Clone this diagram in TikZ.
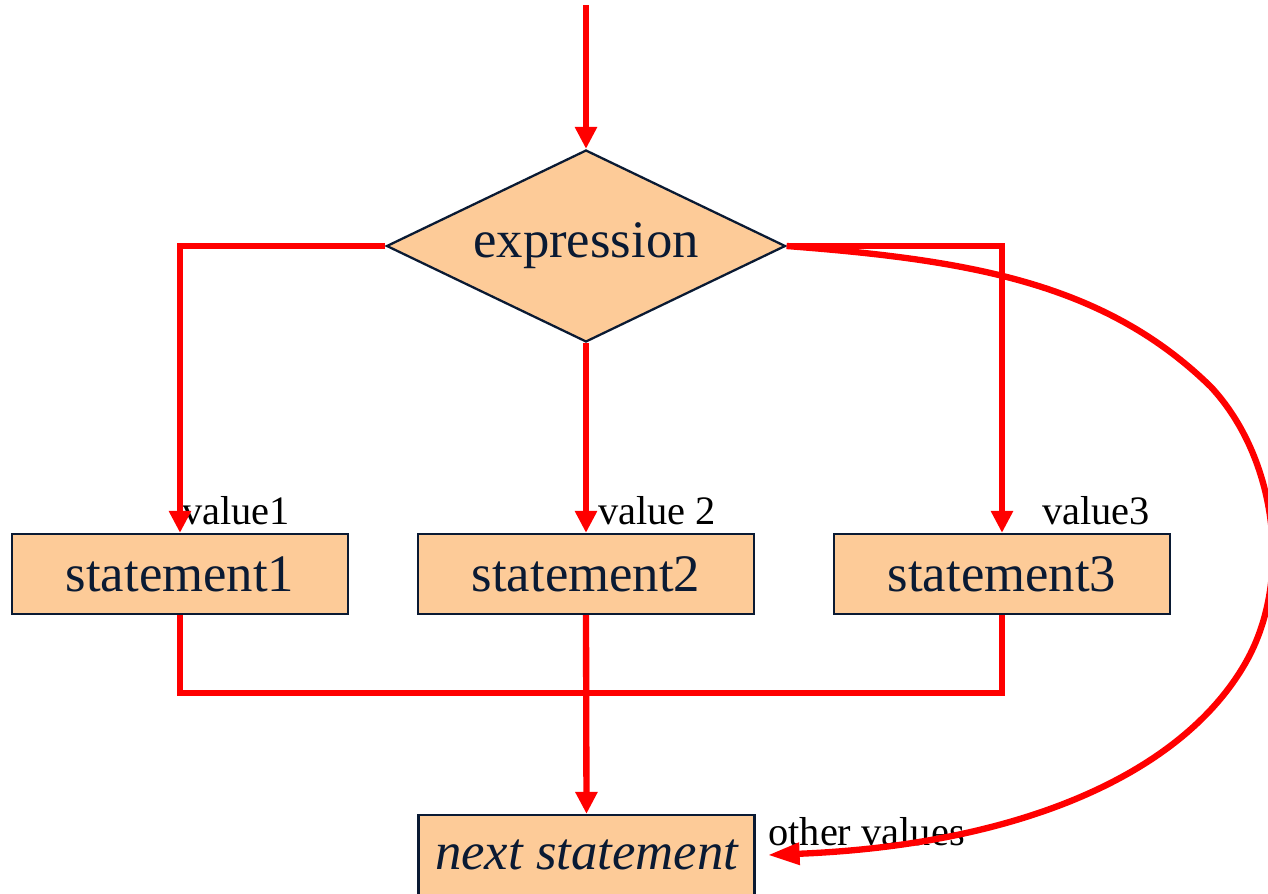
\documentclass[tikz,border=0pt]{standalone}
\usepackage{fontspec}
\setmainfont{Liberation Serif}
\usetikzlibrary{arrows.meta,shapes.geometric}
\definecolor{peach}{HTML}{FDCB98}
\definecolor{ink}{HTML}{0A1A33}
\definecolor{flowred}{HTML}{FF0000}
\begin{document}
\begin{tikzpicture}[x=0.02cm,y=-0.02cm,
  stmt/.style={draw=ink,line width=1.3pt,fill=peach,text=ink,inner sep=0pt,
    minimum width=6.72cm,minimum height=1.6cm,font=\fontsize{30}{35}\selectfont},
  decision/.style={diamond,aspect=2.08,draw=ink,line width=1.3pt,fill=peach,text=ink,inner sep=0pt,
    minimum width=7.98cm,minimum height=3.84cm,font=\fontsize{30}{36}\selectfont},
  tag/.style={anchor=west,inner sep=0pt,text=black,font=\fontsize{23}{27}\selectfont},
  wire/.style={draw=flowred,line width=3.6pt,line join=miter},
  flow/.style={wire,-{Triangle[length=12.5pt,width=12pt]}},
  bigflow/.style={wire,line join=round,-{Triangle[length=18pt,width=12pt]}}]

  \useasboundingbox (0,0) rectangle (1268,893);

  % nodes
  \coordinate (entry) at (586,5);
  \node[decision] (expr) at (586,246) {expression};
  \node[stmt] (s1) at (180,574) {statement1};
  \node[stmt] (s2) at (586,574) {statement2};
  \node[stmt] (s3) at (1002,574) {statement3};
  \node[stmt,font=\fontsize{30}{36}\selectfont\itshape] (next) at (586.5,855) {next statement};
  \coordinate (othertip) at (768,855);

  % case labels
  \node[tag] (v1) at (182,511) {value1};
  \node[tag] (v2) at (598,511) {value 2};
  \node[tag] (v3) at (1042,511) {value3};
  \node[tag] (ov) at (768,832) {other values};

  % flow lines
  \draw[flow] (entry) -- (expr.north);
  \draw[flow] (expr.west) -| (s1.north);
  \draw[flow] (expr.south) -- (s2.north);
  \draw[flow] (expr.east) -| (s3.north);
  \draw[wire] (s1.south) -- ++(0,78) -| (s3.south);
  \draw[flow] (s2.south) -- (next.north);

  % default branch, looping round the right-hand side
  \draw[bigflow] (expr.east)
    .. controls (970,260) and (1105,283) .. (1211,387)
    .. controls (1276,457) and (1293,579) .. (1246,662)
    .. controls (1182,775) and (1018,845) .. (othertip);
\end{tikzpicture}
\end{document}
